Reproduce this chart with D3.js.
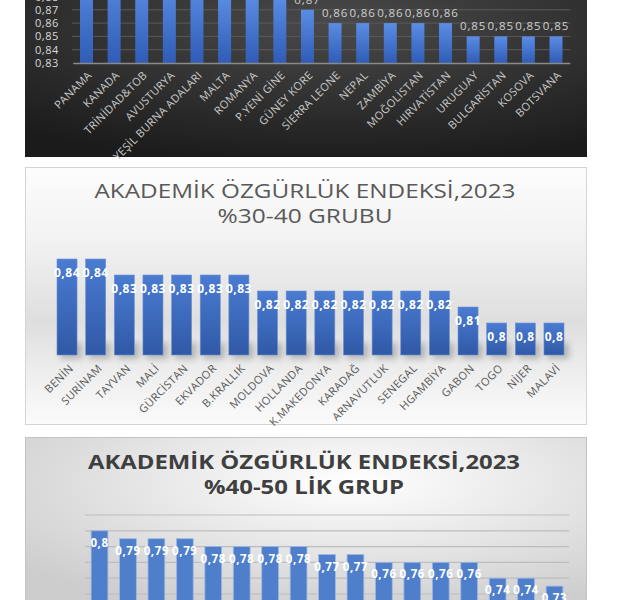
<!DOCTYPE html>
<html>
<head>
<meta charset="utf-8">
<script src="https://cdn.jsdelivr.net/npm/d3@7"></script>
<style>
  body { margin: 0; background: #fff; }
  text { font-family: "Open Sans", sans-serif; }
</style>
</head>
<body>
<svg id="chart" width="617" height="600"></svg>
<script>
// top panel (cut off at the top of the picture)
var topCountries = ["PANAMA", "KANADA", "TRİNİDAD&TOB", "AVUSTURYA", "YEŞİL BURNA ADALARI", "MALTA", "ROMANYA", "P.YENİ GİNE", "GÜNEY KORE", "SİERRA LEONE", "NEPAL", "ZAMBİYA", "MOĞOLİSTAN", "HIRVATİSTAN", "URUGUAY", "BULGARİSTAN", "KOSOVA", "BOTSVANA"];
var topValues = [0.90, 0.90, 0.89, 0.89, 0.89, 0.88, 0.88, 0.88, 0.87, 0.86, 0.86, 0.86, 0.86, 0.86, 0.85, 0.85, 0.85, 0.85];
var topTicks = [0.83, 0.84, 0.85, 0.86, 0.87, 0.88];

// middle panel
var midTitle = ["AKADEMİK ÖZGÜRLÜK ENDEKSİ,2023", "%30-40 GRUBU"];
var midCountries = ["BENİN", "SURİNAM", "TAYVAN", "MALİ", "GÜRCİSTAN", "EKVADOR", "B.KRALLIK", "MOLDOVA", "HOLLANDA", "K.MAKEDONYA", "KARADAĞ", "ARNAVUTLUK", "SENEGAL", "HGAMBİYA", "GABON", "TOGO", "NİJER", "MALAVİ"];
var midValues = [0.84, 0.84, 0.83, 0.83, 0.83, 0.83, 0.83, 0.82, 0.82, 0.82, 0.82, 0.82, 0.82, 0.82, 0.81, 0.80, 0.80, 0.80];

// bottom panel (country names fall below the picture)
var lowTitle = ["AKADEMİK ÖZGÜRLÜK ENDEKSİ,2023", "%40-50 LİK GRUP"];
var lowValues = [0.80, 0.79, 0.79, 0.79, 0.78, 0.78, 0.78, 0.78, 0.77, 0.77, 0.76, 0.76, 0.76, 0.76, 0.74, 0.74, 0.73];
var lowTicks = [0.72, 0.74, 0.76, 0.78, 0.80, 0.82];

var fmt = d => String(+d.toFixed(2)).replace(".", ",");

var svg = d3.select("#chart");
var defs = svg.append("defs");

var g1 = defs.append("radialGradient").attr("id", "bgDark")
    .attr("cx", "55%").attr("cy", "20%").attr("r", "85%");
g1.append("stop").attr("offset", "0%").attr("stop-color", "#4a4a4a");
g1.append("stop").attr("offset", "100%").attr("stop-color", "#1b1b1b");

var g2 = defs.append("linearGradient").attr("id", "bgMid")
    .attr("x1", 0).attr("y1", 0).attr("x2", 0).attr("y2", 1);
[[0, "#fdfdfd"], [0.3, "#f1f1f1"], [0.6, "#dedede"], [0.8, "#eeeeee"], [1, "#fbfbfb"]]
    .forEach(s => g2.append("stop").attr("offset", s[0]).attr("stop-color", s[1]));

var g3 = defs.append("radialGradient").attr("id", "bgLow")
    .attr("cx", "58%").attr("cy", "25%").attr("r", "75%");
g3.append("stop").attr("offset", "0%").attr("stop-color", "#ffffff");
g3.append("stop").attr("offset", "100%").attr("stop-color", "#cdcdcd");

var gb = defs.append("linearGradient").attr("id", "barTop")
    .attr("x1", 0).attr("y1", 0).attr("x2", 0).attr("y2", 1);
gb.append("stop").attr("offset", "0%").attr("stop-color", "#5b8de4");
gb.append("stop").attr("offset", "100%").attr("stop-color", "#2f5cb6");

var gm = defs.append("linearGradient").attr("id", "barMid")
    .attr("x1", 0).attr("y1", 0).attr("x2", 0).attr("y2", 1);
gm.append("stop").attr("offset", "0%").attr("stop-color", "#4a7cd2");
gm.append("stop").attr("offset", "100%").attr("stop-color", "#3059a6");

defs.append("filter").attr("id", "blur")
    .attr("x", "-50%").attr("y", "-50%").attr("width", "200%").attr("height", "200%")
    .append("feGaussianBlur").attr("stdDeviation", 3);

// ---------- top panel ----------
var p1 = svg.append("g");
p1.append("rect").attr("x", 25).attr("y", -10).attr("width", 562).attr("height", 167)
    .attr("fill", "url(#bgDark)");

var x1 = d3.scaleBand().domain(topCountries).range([72.7, 569.8]).paddingInner(0.53).paddingOuter(0.265);
var y1 = d3.scaleLinear().domain([0.83, 0.88]).range([63, -3.5]);

p1.append("g").selectAll("line").data(topTicks.slice(1)).join("line")
    .attr("x1", 72).attr("x2", 570)
    .attr("y1", d => y1(d)).attr("y2", d => y1(d))
    .attr("stroke", "#5a5a5a").attr("stroke-width", 1);

p1.append("g").attr("transform", "translate(61,0)")
    .call(d3.axisLeft(y1).tickValues(topTicks).tickSize(0).tickPadding(2).tickFormat(fmt))
    .call(g => g.select(".domain").remove())
    .call(g => g.selectAll("text").attr("fill", "#d9d9d9").style("font-size", "11px")
        .style("letter-spacing", "0.6px"));

p1.append("g").selectAll("rect").data(topValues).join("rect")
    .attr("x", (d, i) => x1(topCountries[i]))
    .attr("width", x1.bandwidth())
    .attr("y", d => y1(d))
    .attr("height", d => y1(0.83) - y1(d))
    .attr("fill", "url(#barTop)");

p1.append("g").selectAll("text").data(topValues).join("text")
    .attr("x", (d, i) => x1(topCountries[i]) + x1.bandwidth() / 2)
    .attr("y", d => y1(d) - 6)
    .attr("text-anchor", "middle")
    .attr("fill", "#d0d0d0").style("font-size", "11.5px").style("letter-spacing", "0.9px")
    .text(fmt);

p1.append("g").attr("transform", "translate(0,63)")
    .call(d3.axisBottom(x1).tickSize(0).tickPadding(0))
    .call(g => g.select(".domain").attr("stroke", "#8a8a8a").attr("stroke-width", 1.5))
    .call(g => g.selectAll("text")
        .attr("y", 0).attr("dy", null)
        .attr("text-anchor", "end")
        .attr("transform", "translate(6,13) rotate(-45)")
        .attr("fill", "#c9c9c9").style("font-size", "11px").style("letter-spacing", "0.3px"));

// ---------- middle panel ----------
var p2 = svg.append("g");
p2.append("rect").attr("x", 25.5).attr("y", 167.5).attr("width", 561).attr("height", 257)
    .attr("fill", "url(#bgMid)").attr("stroke", "#d4d4d4");

p2.append("g").selectAll("text").data(midTitle).join("text")
    .attr("x", 305).attr("y", (d, i) => 198 + i * 25)
    .attr("text-anchor", "middle")
    .attr("textLength", (d, i) => i === 0 ? 421 : 175).attr("lengthAdjust", "spacingAndGlyphs")
    .attr("fill", "#595959").style("font-size", "20px")
    .text(d => d);

var x2 = d3.scaleBand().domain(midCountries).range([52.7, 568.3]).paddingInner(0.3).paddingOuter(0.15);
var y2 = d3.scaleLinear().domain([0.78, 0.84]).range([355, 259]);

p2.append("g").selectAll("rect").data(midValues).join("rect")
    .attr("x", (d, i) => x2(midCountries[i]) + 3)
    .attr("width", x2.bandwidth() + 2)
    .attr("y", y2(0.78) - 12)
    .attr("height", 16)
    .attr("fill", "#000").attr("opacity", 0.22)
    .attr("filter", "url(#blur)");

p2.append("g").selectAll("rect").data(midValues).join("rect")
    .attr("x", (d, i) => x2(midCountries[i]))
    .attr("width", x2.bandwidth())
    .attr("y", d => y2(d))
    .attr("height", d => y2(0.78) - y2(d))
    .attr("fill", "url(#barMid)").attr("stroke", "#6d93d6").attr("stroke-width", 0.6);

p2.append("g").selectAll("text").data(midValues).join("text")
    .attr("x", (d, i) => x2(midCountries[i]) + x2.bandwidth() / 2)
    .attr("y", d => y2(d) + 18)
    .attr("text-anchor", "middle")
    .attr("fill", "#ffffff").style("font-size", "12px").style("font-weight", "bold")
    .style("letter-spacing", "0.5px")
    .text(fmt);

p2.append("g").attr("transform", "translate(0,355)")
    .call(d3.axisBottom(x2).tickSize(0).tickPadding(0))
    .call(g => g.select(".domain").remove())
    .call(g => g.selectAll("text")
        .attr("y", 0).attr("dy", null)
        .attr("text-anchor", "end")
        .attr("transform", "translate(7,14) rotate(-45)")
        .attr("fill", "#595959").style("font-size", "11px").style("letter-spacing", "0.4px"));

// ---------- bottom panel ----------
var p3 = svg.append("g");
p3.append("rect").attr("x", 25.5).attr("y", 437.5).attr("width", 561).attr("height", 180)
    .attr("fill", "url(#bgLow)").attr("stroke", "#c4c4c4");

p3.append("g").selectAll("text").data(lowTitle).join("text")
    .attr("x", 304).attr("y", (d, i) => 469 + i * 25)
    .attr("text-anchor", "middle")
    .attr("textLength", (d, i) => i === 0 ? 432 : 200).attr("lengthAdjust", "spacingAndGlyphs")
    .attr("fill", "#3f3f3f").style("font-size", "20px").style("font-weight", "bold")
    .text(d => d);

var lowKeys = lowValues.map((d, i) => "k" + i);
var x3 = d3.scaleBand().domain(lowKeys).range([85.3, 568.7]).paddingInner(0.41).paddingOuter(0.205);
var y3 = d3.scaleLinear().domain([0.72, 0.82]).range([594, 515]);

p3.append("g").selectAll("line").data(lowTicks).join("line")
    .attr("x1", 85).attr("x2", 569)
    .attr("y1", d => y3(d)).attr("y2", d => y3(d))
    .attr("stroke", "#bdbdbd").attr("stroke-width", 1.2);

p3.append("g").selectAll("rect").data(lowValues).join("rect")
    .attr("x", (d, i) => x3(lowKeys[i]))
    .attr("width", x3.bandwidth())
    .attr("y", d => y3(d))
    .attr("height", d => y3(0.70) - y3(d))
    .attr("fill", "#4f7ecb").attr("stroke", "#9db8e6").attr("stroke-width", 0.8);

p3.append("g").selectAll("text").data(lowValues).join("text")
    .attr("x", (d, i) => x3(lowKeys[i]) + x3.bandwidth() / 2)
    .attr("y", d => y3(d) + 16)
    .attr("text-anchor", "middle")
    .attr("fill", "#ffffff").style("font-size", "11.5px").style("font-weight", "bold")
    .style("letter-spacing", "0.6px")
    .text(fmt);
</script>
</body>
</html>
